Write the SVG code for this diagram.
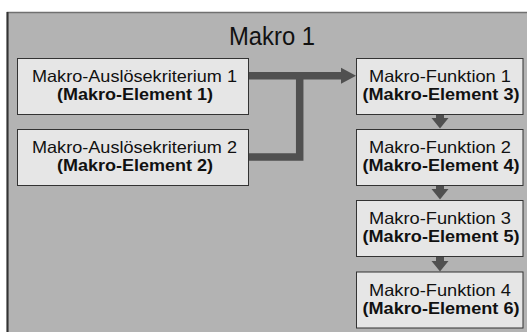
<svg xmlns="http://www.w3.org/2000/svg" width="527" height="332" viewBox="0 0 527 332">
<style>
.box{fill:#e6e6e6;stroke:#333;stroke-width:1}
.t{font-family:"Liberation Sans",Arial,sans-serif;font-size:16.5px;fill:#111;text-anchor:middle}
.b{font-weight:bold}
.c{fill:none;stroke:#505050;stroke-width:7.5}
.h{fill:#505050}
</style>
<rect width="527" height="332" fill="#ffffff"/>
<g id="container">
<rect x="7.5" y="12.5" width="540" height="340" fill="#b3b3b3" stroke="#707070" stroke-width="1.5"/>
<line x1="7.5" y1="12" x2="7.5" y2="332" stroke="#333" stroke-width="2"/>
<text x="272" y="45" font-family="'Liberation Sans',Arial,sans-serif" font-size="25" fill="#111" text-anchor="middle" textLength="86" lengthAdjust="spacingAndGlyphs">Makro 1</text>
</g>
<g id="connectors">
<polyline class="c" points="249,75.7 343,75.7"/>
<polyline class="c" points="249,157 299.7,157 299.7,75.7"/>
<polygon class="h" points="341,67.7 356,75.7 341,83.7"/>
<line class="c" x1="440" y1="114" x2="440" y2="119" style="stroke-width:8"/>
<polygon class="h" points="431.5,118 448.5,118 440,128.5"/>
<line class="c" x1="440" y1="185" x2="440" y2="190" style="stroke-width:8"/>
<polygon class="h" points="431.5,189 448.5,189 440,199.5"/>
<line class="c" x1="440" y1="256" x2="440" y2="262" style="stroke-width:8"/>
<polygon class="h" points="431.5,261 448.5,261 440,271.5"/>
</g>
<g id="n1">
<rect class="box" x="17.5" y="58.5" width="231" height="56"/>
<text class="t" x="134.5" y="82" textLength="205" lengthAdjust="spacingAndGlyphs">Makro-Auslösekriterium 1</text>
<text class="t b" x="135" y="100" textLength="156" lengthAdjust="spacingAndGlyphs">(Makro-Element 1)</text>
</g>
<g id="n2">
<rect class="box" x="17.5" y="129.5" width="231" height="56"/>
<text class="t" x="134.5" y="153" textLength="205" lengthAdjust="spacingAndGlyphs">Makro-Auslösekriterium 2</text>
<text class="t b" x="135" y="171" textLength="156" lengthAdjust="spacingAndGlyphs">(Makro-Element 2)</text>
</g>
<g id="n3">
<rect class="box" x="356.5" y="58.5" width="166.5" height="56"/>
<text class="t" x="440" y="82" textLength="142" lengthAdjust="spacingAndGlyphs">Makro-Funktion 1</text>
<text class="t b" x="441" y="100" textLength="157" lengthAdjust="spacingAndGlyphs">(Makro-Element 3)</text>
</g>
<g id="n4">
<rect class="box" x="356.5" y="129.5" width="166.5" height="56"/>
<text class="t" x="440" y="153" textLength="142" lengthAdjust="spacingAndGlyphs">Makro-Funktion 2</text>
<text class="t b" x="441" y="171" textLength="157" lengthAdjust="spacingAndGlyphs">(Makro-Element 4)</text>
</g>
<g id="n5">
<rect class="box" x="356.5" y="200.5" width="166.5" height="56"/>
<text class="t" x="440" y="224" textLength="142" lengthAdjust="spacingAndGlyphs">Makro-Funktion 3</text>
<text class="t b" x="441" y="242" textLength="157" lengthAdjust="spacingAndGlyphs">(Makro-Element 5)</text>
</g>
<g id="n6">
<rect class="box" x="356.5" y="272" width="166.5" height="56"/>
<text class="t" x="440" y="295.5" textLength="142" lengthAdjust="spacingAndGlyphs">Makro-Funktion 4</text>
<text class="t b" x="441" y="313.5" textLength="157" lengthAdjust="spacingAndGlyphs">(Makro-Element 6)</text>
</g>
</svg>
